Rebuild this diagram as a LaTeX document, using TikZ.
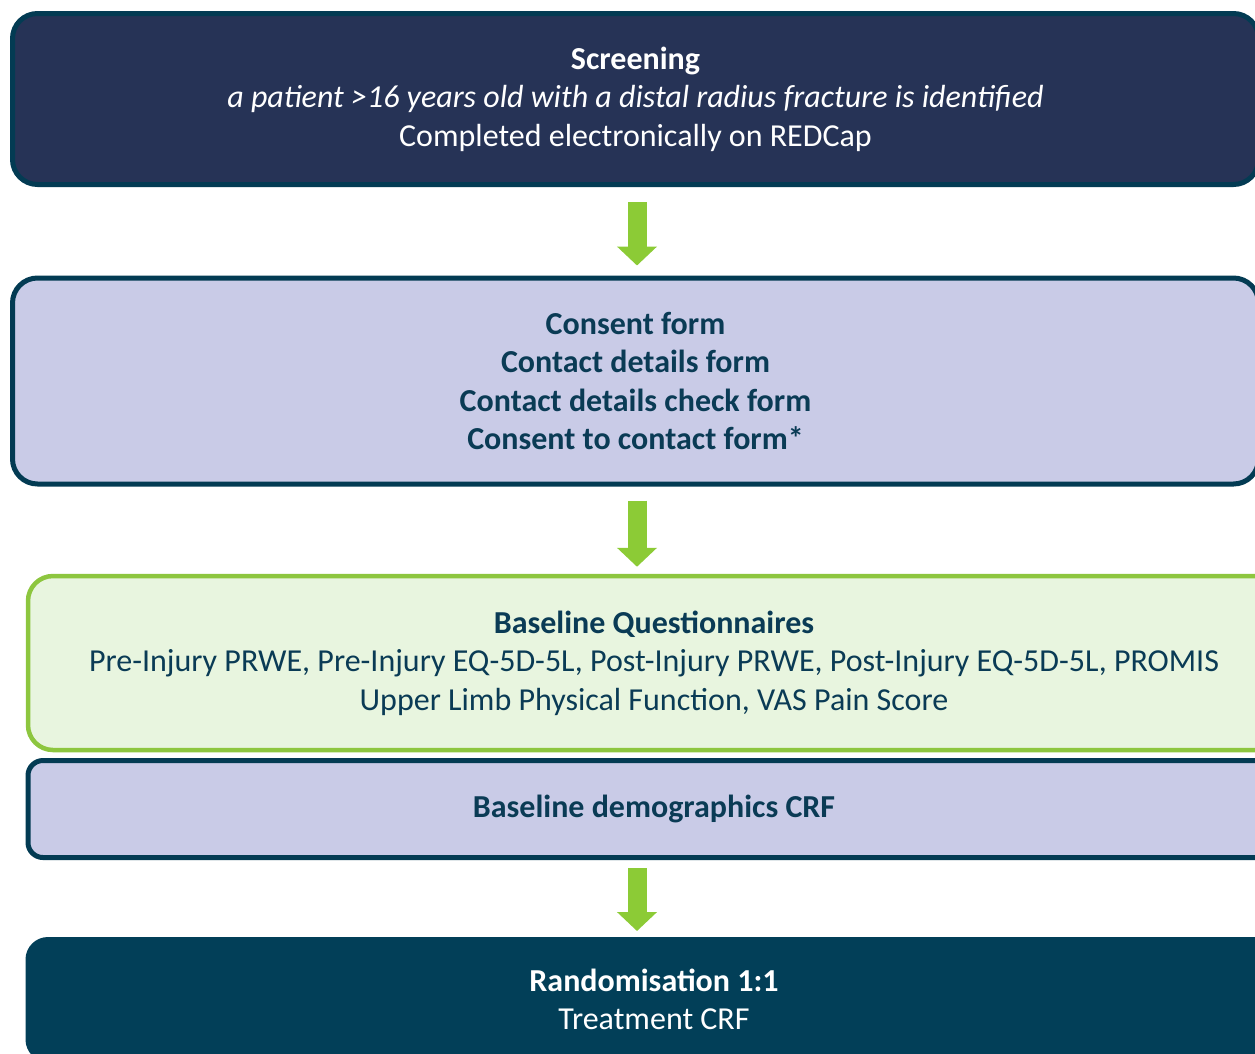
\documentclass[tikz,border=0pt]{standalone}
\usepackage{fontspec}
\setmainfont{Carlito}
\usetikzlibrary{positioning, arrows.meta}
\definecolor{navyfill}{HTML}{263356}
\definecolor{tealline}{HTML}{033B53}
\definecolor{lilacfill}{HTML}{C9CBE7}
\definecolor{palegreen}{HTML}{E8F5DF}
\definecolor{limegreen}{HTML}{8DC63F}
\definecolor{darkteal}{HTML}{023F58}
\definecolor{textteal}{HTML}{0A3B55}
\definecolor{arrowgreen}{HTML}{8CCB36}

\begin{document}
\begin{tikzpicture}[x=1pt, y=-1pt,
    stagebox/.style={draw=tealline, line width=5pt, rounded corners=25pt, align=center,
        inner sep=0pt, text=textteal, font=\fontsize{32}{38.5}\selectfont},
    flowarrow/.style={draw=arrowgreen, line width=19pt, -{Triangle[width=39pt, length=19pt]}}]
    \useasboundingbox (0,0) rectangle (1255,1053);
    \clip (0,0) rectangle (1255,1053);
    % Stages of the pathway, top to bottom
    \node (screen) [stagebox, fill=navyfill, text=white, minimum width=1246pt, minimum height=171pt] at (635.5,99)
        {\textbf{Screening}\\ \textit{a patient >16 years old with a distal radius fracture is identified}\\ Completed electronically on REDCap};
    \node (consent) [stagebox, fill=lilacfill, minimum width=1246pt, minimum height=206pt] at (635.5,381)
        {\textbf{Consent form}\\ \textbf{Contact details form}\\ \textbf{Contact details check form}\\ \textbf{Consent to contact form*}};
    \node (quest) [stagebox, draw=limegreen, line width=4.5pt, fill=palegreen, minimum width=1252pt, minimum height=174pt] at (654,663)
        {\textbf{Baseline Questionnaires}\\ Pre-Injury PRWE, Pre-Injury EQ-5D-5L, Post-Injury PRWE, Post-Injury EQ-5D-5L, PROMIS\\ Upper Limb Physical Function, VAS Pain Score};
    \node (demo) [stagebox, fill=lilacfill, rounded corners=15pt, minimum width=1252pt, minimum height=97pt] at (654,809)
        {\textbf{Baseline demographics CRF}};
    \node (rand) [stagebox, draw=darkteal, fill=darkteal, text=white, rounded corners=20pt, minimum width=1252pt, minimum height=120pt] at (654,999.5)
        {\textbf{Randomisation 1:1}\\ Treatment CRF};
    % Arrows between stages
    \draw [flowarrow] ([xshift=1.5pt, yshift=-15pt]screen.south) -- ([xshift=1.5pt, yshift=10pt]consent.north);
    \draw [flowarrow] ([xshift=1.5pt, yshift=-14pt]consent.south) -- ([xshift=1.5pt, yshift=7pt]consent.south |- quest.north);
    \draw [flowarrow] ([xshift=-17pt, yshift=-8pt]demo.south) -- ([xshift=-17pt, yshift=6pt]rand.north);
\end{tikzpicture}
\end{document}
